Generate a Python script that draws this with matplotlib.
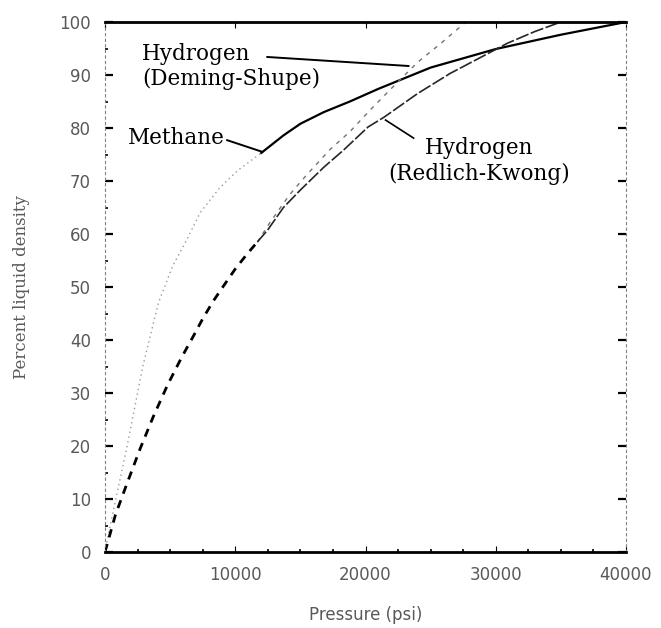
import numpy as np
import matplotlib.pyplot as plt
from matplotlib.ticker import MultipleLocator

# -----------------------------------------------------------------------------
# Datos (presion en psi, % densidad del liquido)
# -----------------------------------------------------------------------------
methane_p_low = [0, 400, 1700, 2900, 4100, 5200, 6300, 7300, 8800, 10200, 12000]
methane_low = [0, 5, 20, 35, 47, 54, 59, 64, 68.7, 72, 75.3]
methane_p_high = [12000, 13700, 15000, 16800, 18800, 21000, 25000, 30000, 35000, 40000]
methane_high = [75.3, 78.6, 80.8, 83, 85, 87.4, 91.4, 94.9, 97.6, 100]

# Tramo comun de hidrogeno (ambas ecuaciones coinciden)
h2_p_low = [0, 800, 1700, 2700, 3700, 4800, 5900, 6800, 7500, 8300, 9100, 10000, 10900, 11700]
h2_low = [0, 7, 13, 19.5, 25.5, 31.5, 36.8, 40.8, 44, 47.3, 50.2, 53.4, 56.2, 58.5]

ds_p = [11700, 12700, 14200, 15500, 17300, 18800, 20400, 22000, 24000, 25800, 27700]
ds = [58.5, 62.3, 67.5, 71.2, 76, 79.3, 83.5, 87.5, 92.4, 96, 100]

rk_p = [11700, 12500, 13700, 15000, 16800, 18300, 20200, 21400, 24000, 26500, 28900, 30900, 33000, 35000]
rk = [58.5, 60.8, 65, 68.3, 72.6, 75.8, 80.2, 82, 86.5, 90.3, 93.4, 96, 98.2, 100]

x_ticks = [0, 10000, 20000, 30000, 40000]
y_ticks = [0, 10, 20, 30, 40, 50, 60, 70, 80, 90, 100]

fig = plt.figure(figsize=(6.61, 6.28), dpi=100)
ax = fig.add_axes([105/661, 1 - 552/628, 521/661, 530/628])

ax.plot(methane_p_low, methane_low, color='0.6', lw=1.0, linestyle=(0, (1, 2.5)))
ax.plot(methane_p_high, methane_high, color='black', lw=1.6)
ax.plot(h2_p_low, h2_low, color='black', lw=2.0, linestyle=(0, (3, 2.5)))
ax.plot(ds_p, ds, color='0.45', lw=1.0, linestyle=(0, (3, 4)))
ax.plot(rk_p, rk, color='0.15', lw=1.2, linestyle=(0, (8, 1.5)))

ax.set_xlim(0, 40000)
ax.set_ylim(0, 100)
ax.set_xticks(x_ticks)
ax.set_yticks(y_ticks)
ax.xaxis.set_minor_locator(MultipleLocator(2500))
ax.yaxis.set_minor_locator(MultipleLocator(5))

# Marco: arriba/abajo gruesos, lados punteados
ax.spines['top'].set_linewidth(2.0)
ax.spines['bottom'].set_linewidth(2.0)
for s in ['left', 'right']:
    ax.spines[s].set_linewidth(0.8)
    ax.spines[s].set_color('0.5')
    ax.spines[s].set_linestyle((0, (2, 3)))

ax.tick_params(axis='both', which='major', direction='in', length=6, width=1.6,
               top=True, right=True, labelsize=12, labelcolor='0.35', pad=10)
ax.tick_params(axis='both', which='minor', direction='in', length=2.5, width=1.2,
               top=False, right=False)
ax.tick_params(axis='x', which='major', top=True, length=4, width=0.8)

ax.set_xlabel("Pressure (psi)", fontsize=12, color='0.35', labelpad=16)
# etiqueta y colocada a mano para que no se corte
fig.text(22/661, 1 - 287/628, "Percent liquid density", rotation=90,
         ha='center', va='center', fontsize=12, family='DejaVu Serif', color='0.35')

font = dict(family='DejaVu Serif', fontsize=15.5, color='black')
ax.text(2850, 91.6, "Hydrogen\n(Deming-Shupe)", ha='left', va='center',
        linespacing=1.2, **font)
ax.plot([12460, 23300], [93.4, 91.7], color='black', lw=1.4)

ax.text(1770, 78.1, "Methane", ha='left', va='center', **font)
ax.plot([9380, 12080], [77.7, 75.5], color='black', lw=1.4)

ax.text(28700, 73.8, "Hydrogen\n(Redlich-Kwong)", ha='center', va='center',
        linespacing=1.2, **font)
ax.plot([21540, 23690], [81.5, 78.1], color='black', lw=1.2)

fig.savefig("out.png", dpi=100)
